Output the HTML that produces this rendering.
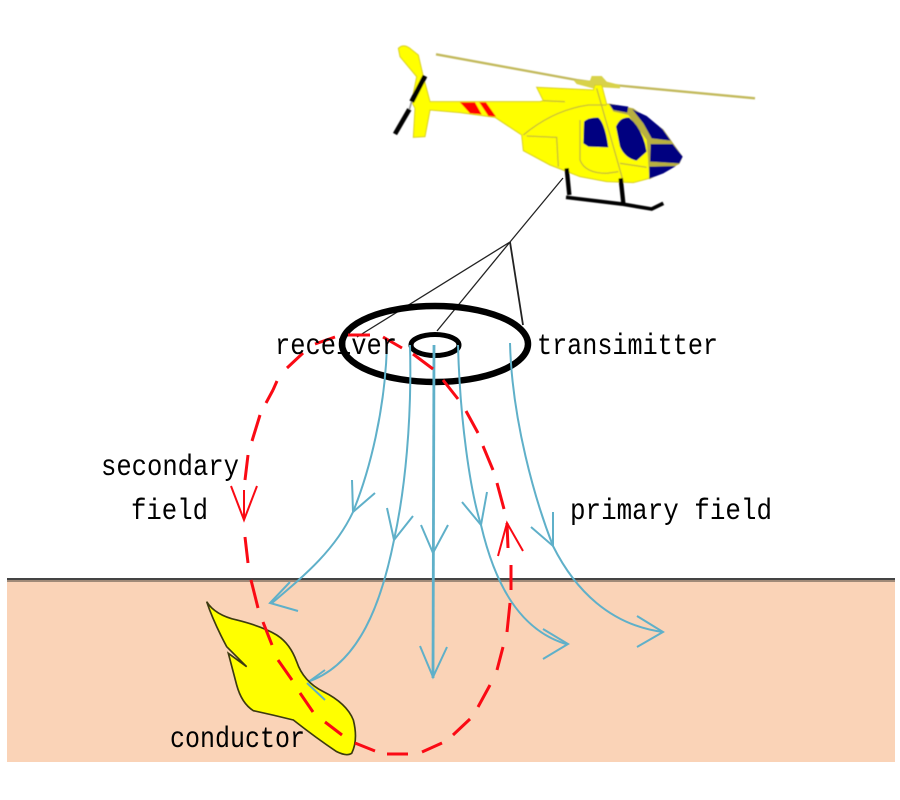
<!DOCTYPE html>
<html>
<head>
<meta charset="utf-8">
<style>
html,body{margin:0;padding:0;background:#fff;}
svg{display:block;}
text{font-family:"Liberation Mono",monospace;font-size:30px;fill:#000;}
</style>
</head>
<body>
<svg width="900" height="800" viewBox="0 0 900 800" xmlns="http://www.w3.org/2000/svg">
<defs><filter id="b" x="-5%" y="-5%" width="110%" height="110%"><feGaussianBlur stdDeviation="1.5"/></filter></defs>
<rect width="900" height="800" fill="#fff"/>
<rect x="7" y="578" width="888" height="184" fill="#fad3b7"/>
<rect x="7" y="580" width="888" height="2" fill="#a08a78"/>
<rect x="7" y="578" width="888" height="2" fill="#444"/>

<!-- tether lines -->
<g fill="none" stroke="#222">
<path d="M563 178L510 242" stroke-width="1.3"/>
<path d="M510 242L357 337" stroke-width="1.3"/>
<path d="M510 242L437 331" stroke-width="1.3"/>
<path d="M510 242L523 325" stroke-width="1.8"/>
</g>
<!-- loops -->
<ellipse cx="435" cy="344" rx="93" ry="38" fill="none" stroke="#000" stroke-width="6.5"/>
<ellipse cx="435" cy="345" rx="24" ry="10.5" fill="none" stroke="#000" stroke-width="5"/>

<!-- helicopter, coordinates in 3x crop space -->
<g transform="translate(380,30) scale(0.33333)">
<g filter="url(#b)">
<path d="M168 73L590 150L700 165L1125 205" fill="none" stroke="#c2b95c" stroke-width="7"/>
<path d="M580 150L630 152L635 138L665 138L680 155L720 165L720 175L670 172L650 178L590 162Z" fill="#d8d24a"/>
<path d="M55 55Q70 40 90 55L115 75L130 140L150 215L480 215L490 212L470 172L640 180L645 165L665 165L680 222L760 240L820 310L840 345L812 345L808 445L760 458L680 455L600 440L510 405L430 362L425 315L345 262L240 248L150 240L135 320L100 322L105 235L95 215L110 140L85 110L60 80Z" fill="#ffff00" stroke="#d8cf20" stroke-width="3"/>
<path d="M240 217L285 217L305 253L270 250ZM298 217L318 217L348 260L325 258Z" fill="#ff0000"/>
<path d="M430 315Q520 240 625 225L680 225M440 318L530 322L535 410M600 270L600 390Q615 430 680 430L715 425M650 175L730 455M555 215L490 212M720 400L800 412" fill="none" stroke="#c8bd30" stroke-width="4"/>
<path d="M685 220L760 235L850 298L908 380L898 402L808 448L800 330L745 255L700 245Z" fill="#b8b040"/>
<path d="M688 222L745 230L742 248L700 240Z" fill="#000080"/>
<path d="M757 238L800 258L848 298L872 332L815 325L790 280Z" fill="#000080"/>
<path d="M812 342L878 342L908 380L898 400L810 395Z" fill="#000080"/>
<path d="M808 410L888 408L850 430L808 446Z" fill="#000080"/>
<path d="M612 275Q625 262 655 263Q675 280 685 352L625 350L610 340Z" fill="#000080"/>
<path d="M708 290Q720 260 748 263Q790 300 800 365L770 392Q735 385 720 350Z" fill="#000080"/>
<path d="M95 215L88 238" stroke="#999" stroke-width="5" fill="none"/>
<path d="M135 138L95 215" stroke="#000" stroke-width="15" fill="none"/>
<path d="M88 238L45 312" stroke="#000" stroke-width="14" fill="none"/>
<path d="M560 415L568 495M722 445L730 520" stroke="#000" stroke-width="13" fill="none"/>
<path d="M558 502L725 522L815 537L850 520" stroke="#000" stroke-width="11" fill="none"/>
</g>
</g>

<!-- primary field -->
<g fill="none" stroke="#5fb0c9" stroke-width="2">
<path d="M387 345C385 410 370 470 353 512C335 550 305 575 272 603"/>
<path d="M352 480L353 512L375 493M290 582L270 603L298 611"/>
<path d="M410 345C412 420 405 490 394 540C382 600 360 665 307 682"/>
<path d="M387 508L394 540L413 516M325 670L307 683L325 700"/>
<path d="M434 345L433 678" stroke-width="2.8"/>
<path d="M421 525L433 553L448 525M420 646L433 677L447 647"/>
<path d="M458 345C460 420 470 490 481 525C495 585 520 630 566 644"/>
<path d="M462 502L481 525L487 492M543 629L568 644L543 659"/>
<path d="M510 343C512 420 535 500 553 546C575 590 610 625 663 632"/>
<path d="M531 527L553 546L553 512M637 616L663 632L637 647"/>
</g>

<!-- conductor -->
<g transform="translate(90,440) scale(0.33333)">
<path d="M350 485Q375 525 440 540Q520 560 560 585Q600 610 620 665Q640 725 700 755Q770 790 790 840Q805 900 785 940Q770 950 740 935Q680 895 610 840Q550 825 490 812Q455 790 440 735L415 640L470 680L410 620Q370 545 350 485Z" fill="#ffff00" stroke="#3c3a10" stroke-width="5"/>
</g>
<path d="M307 683L325 700" fill="none" stroke="#5fb0c9" stroke-width="2"/>

<!-- secondary field -->
<path d="M273 390L266 403M260 415L252 441M248 455L245 480M245 537L248 563M251 580L258 608M263 622L272 645M278 660L292 680M300 693L313 712M325 722L342 735M355 743L375 751M387 754L408 754M422 752L442 743M453 735L470 719M478 707L490 685M497 670L503 647M507 632L510 603M511 590L511 565M507 523L508 548M504 509L497 483M493 470L483 446M478 433L466 411M458 399L443 380M433 369L413 354M402 348L383 337M370 335L348 335M335 337L315 344M303 353L287 368M277 381L273 390" fill="none" stroke="#fa0a14" stroke-width="3"/>
<path d="M231 486L244 520L257 486M244 490L244 520M498 556L507 523L523 551" fill="none" stroke="#fa0a14" stroke-width="2"/>

<text x="275" y="354" textLength="122" lengthAdjust="spacingAndGlyphs">receiver</text>
<text x="537" y="354" textLength="181" lengthAdjust="spacingAndGlyphs">transimitter</text>
<text x="101" y="475" textLength="138" lengthAdjust="spacingAndGlyphs">secondary</text>
<text x="131" y="519" textLength="77" lengthAdjust="spacingAndGlyphs">field</text>
<text x="570" y="519" textLength="202" lengthAdjust="spacingAndGlyphs">primary field</text>
<text x="170" y="747" textLength="135" lengthAdjust="spacingAndGlyphs">conductor</text>
</svg>
</body>
</html>
